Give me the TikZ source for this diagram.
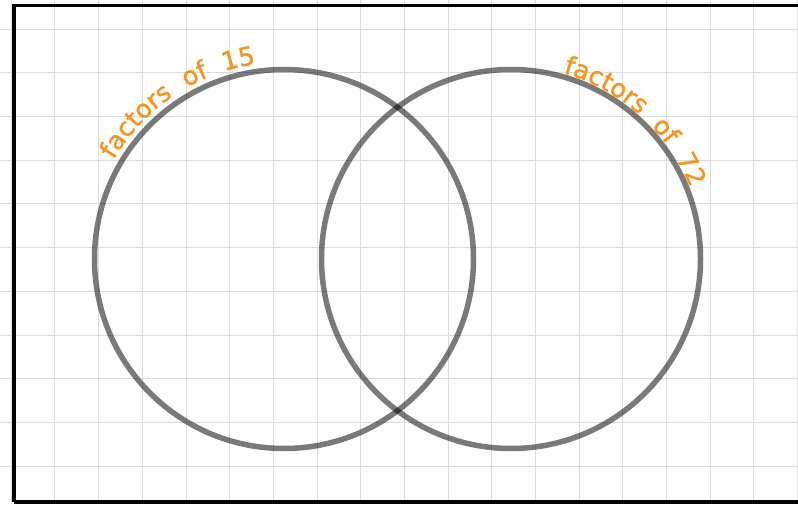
\documentclass[tikz,border=0pt]{standalone}
\usepackage{fontspec}
\newfontfamily\handfont[FakeBold=1.2]{DejaVu Sans}
\usetikzlibrary{decorations.text}
\definecolor{gridgray}{RGB}{220,220,220}
\definecolor{labelorange}{RGB}{247,148,30}
\tikzset{
  gridline/.style={draw=gridgray, line width=1pt},
  frame/.style={draw=black, line width=3.5pt},
  venn/.style={draw=black, draw opacity=0.52, line width=5.5pt},
}
\begin{document}
\begin{tikzpicture}[x=1pt,y=1pt]
\useasboundingbox (0,0) rectangle (798,504);
\clip (0,0) rectangle (798,504);
\fill[white] (0,0) rectangle (798,504);
% grid
\foreach \k in {0,...,18} {
  \draw[gridline] ({11.3+43.68*\k},0) -- ({11.3+43.68*\k},504);
}
\foreach \k in {1,...,11} {
  \draw[gridline] (0,{504-(-14.4+43.68*\k)}) -- (798,{504-(-14.4+43.68*\k)});
}
% frame
\draw[frame] (14,2) -- (14,498.3) -- (810,498.3);
\draw[frame] (14,2) -- (810,2);
% circles
\coordinate (cl) at (284,245);
\coordinate (cr) at (511,245);
\draw[venn] (cl) circle[radius=189.5];
\draw[venn] (cr) circle[radius=189.5];
% labels
\path[decorate, decoration={text along path, text align=center,
  text={|\handfont\fontsize{25.5}{25.5}\selectfont\color{labelorange}|factors{ }{ }of{ }{ }15}}]
  (cl) ++(170:197) arc[start angle=170, end angle=78, radius=197];
\path[decorate, decoration={text along path, text align=center,
  text={|\handfont\fontsize{25.5}{25.5}\selectfont\color{labelorange}|factors{ }{ }of{ }{ }72}}]
  (cr) ++(94:193) arc[start angle=94, end angle=2, radius=193];
\end{tikzpicture}
\end{document}
